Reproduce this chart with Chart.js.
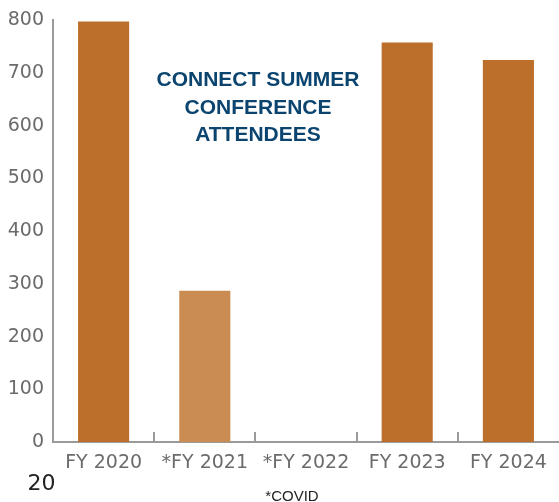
<!DOCTYPE html>
<html>
<head>
<meta charset="utf-8">
<script src="https://cdn.jsdelivr.net/npm/chart.js@4.4.1/dist/chart.umd.min.js"></script>
<style>
  html, body { margin: 0; padding: 0; background: #ffffff; }
  #wrap { position: relative; width: 559px; height: 502px; overflow: hidden; }
  #chart { position: absolute; left: 0; top: 0; }
  .title {
    position: absolute; left: 148px; top: 65px; width: 220px;
    text-align: center; font-family: "Liberation Sans", Arial, sans-serif;
    font-weight: bold; font-size: 21px; line-height: 27.7px; color: #0b456f;
  }
  .page-num {
    position: absolute; left: 27.5px; top: 469.5px;
    font-family: "DejaVu Sans", sans-serif; font-size: 22px; color: #222222;
  }
  .note {
    position: absolute; left: 292px; top: 486.5px; transform: translateX(-50%);
    font-family: "Liberation Sans", Arial, sans-serif; font-size: 15px; color: #222222;
    white-space: nowrap;
  }
</style>
</head>
<body>
<div id="wrap">
  <canvas id="chart" width="559" height="502"></canvas>
  <div class="title">CONNECT SUMMER<br>CONFERENCE<br>ATTENDEES</div>
  <div class="page-num">20</div>
  <div class="note">*COVID</div>
</div>
<script>
// Fiscal years shown on the category axis
const categories = ['FY 2020', '*FY 2021', '*FY 2022', 'FY 2023', 'FY 2024'];
// Conference attendees per fiscal year
const attendees = [798, 287, 0, 758, 725];
// Value-axis range and spacing
const yMin = 0;
const yMax = 800;
const yStep = 100;

const barColors = ['#bc6f2b', '#cb8c53', '#bc6f2b', '#bc6f2b', '#bc6f2b'];
const axisColor = '#9a9a9a';
const labelColor = '#6b6b6b';

// Short upward tick marks between categories on the x axis
const innerTicks = {
  id: 'innerTicks',
  afterDatasetsDraw(chart) {
    const x = chart.scales.x;
    const bottom = chart.chartArea.bottom;
    const ctx = chart.ctx;
    ctx.save();
    ctx.strokeStyle = axisColor;
    ctx.lineWidth = 2;
    for (let i = 1; i < categories.length; i++) {
      const px = Math.round((x.getPixelForValue(i - 1) + x.getPixelForValue(i)) / 2);
      ctx.beginPath();
      ctx.moveTo(px, bottom);
      ctx.lineTo(px, bottom - 10);
      ctx.stroke();
    }
    ctx.restore();
  }
};

new Chart(document.getElementById('chart'), {
  type: 'bar',
  data: {
    labels: categories,
    datasets: [{
      data: attendees,
      backgroundColor: barColors,
      borderWidth: 0,
      categoryPercentage: 1,
      barPercentage: 0.505
    }]
  },
  options: {
    responsive: false,
    animation: false,
    layout: { padding: { top: 10, right: 0, left: 0, bottom: 0 } },
    plugins: { legend: { display: false }, tooltip: { enabled: false } },
    scales: {
      x: {
        grid: { display: false, drawTicks: false },
        border: { display: true, color: axisColor, width: 2 },
        ticks: {
          color: labelColor,
          padding: 10,
          maxRotation: 0,
          font: { family: 'DejaVu Sans', size: 19 }
        },
        afterFit(scale) { scale.height = 60; }
      },
      y: {
        min: yMin,
        max: yMax,
        grid: { display: false, drawTicks: false },
        border: { display: true, color: axisColor, width: 2 },
        ticks: {
          stepSize: yStep,
          color: labelColor,
          padding: 9,
          font: { family: 'DejaVu Sans', size: 19 }
        },
        afterFit(scale) { scale.width = 53; }
      }
    }
  },
  plugins: [innerTicks]
});
</script>
</body>
</html>
